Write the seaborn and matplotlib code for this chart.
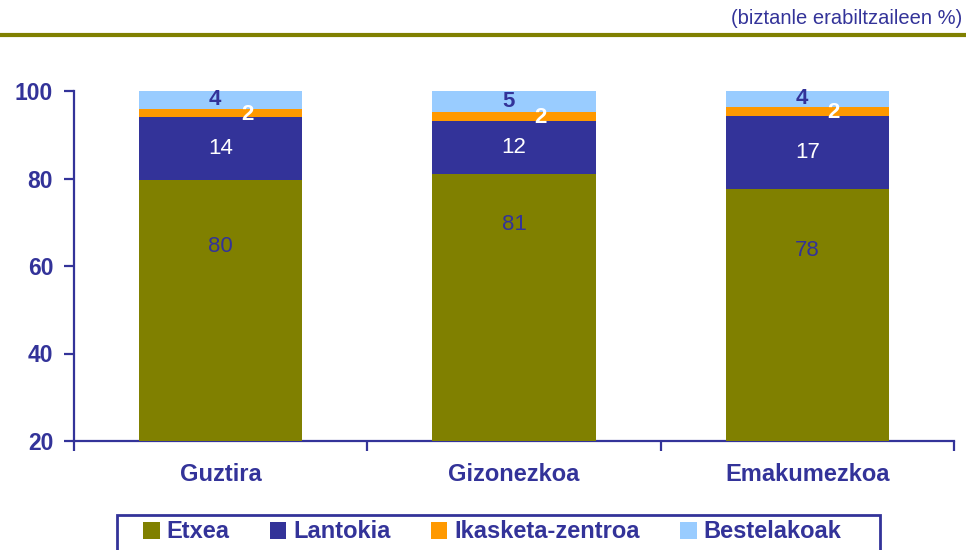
import matplotlib
matplotlib.use("Agg")
import matplotlib.pyplot as plt
import seaborn as sns
import pandas as pd
import numpy as np
from matplotlib.patches import Patch, Rectangle
from matplotlib.lines import Line2D

# datuak (biztanle erabiltzaileen %)
categories = ["Guztira", "Gizonezkoa", "Emakumezkoa"]
series = ["Etxea", "Lantokia", "Ikasketa-zentroa", "Bestelakoak"]
etxea = [79.6, 81.0, 77.6]
lantokia = [14.4, 12.2, 16.8]
ikasketa = [2.0, 2.0, 2.0]
bestelakoak = [4.2, 4.8, 3.8]
labels_etxea = ["80", "81", "78"]
labels_lantokia = ["14", "12", "17"]
labels_ikasketa = ["2", "2", "2"]
labels_bestelakoak = ["4", "5", "4"]
etxea_label_y = [64.5, 69.6, 63.6]

colors = ["#808000", "#333399", "#FF9900", "#99CCFF"]
txt = "#333399"

sns.set_style("white")
plt.rcParams["font.family"] = ["Liberation Sans", "DejaVu Sans"]

values = np.array([etxea, lantokia, ikasketa, bestelakoak])
cum = values.cumsum(axis=0)

fig = plt.figure(figsize=(9.66, 5.5), dpi=100)
ax = fig.add_axes([74 / 966, 1 - 441 / 550, 880 / 966, 350 / 550])

# goiko geruzatik behekora marraztu
for i in range(3, -1, -1):
    df = pd.DataFrame({"kat": categories, "val": cum[i]})
    sns.barplot(data=df, x="kat", y="val", color=colors[i], saturation=1,
                width=0.556, linewidth=0, ax=ax, zorder=2 + (3 - i))

ax.set_xlim(-0.5, 2.5)
ax.set_ylim(20, 100)
ax.set_yticks([20, 40, 60, 80, 100])
ax.set_xlabel("")
ax.set_ylabel("")
for s in ["top", "right"]:
    ax.spines[s].set_visible(False)
for s in ["left", "bottom"]:
    ax.spines[s].set_color(txt)
    ax.spines[s].set_linewidth(1.6)

ax.set_xticks(np.arange(len(categories)))
ax.set_xticklabels(categories)
ax.set_xticks([-0.5, 0.5, 1.5, 2.5], minor=True)
ax.tick_params(axis="x", which="major", length=0, pad=16, labelsize=17,
               labelcolor=txt)
ax.tick_params(axis="x", which="minor", bottom=True, length=7, width=1.6,
               color=txt, direction="out")
ax.tick_params(axis="y", left=True, length=7, width=1.6, color=txt,
               direction="out", pad=8, labelsize=16.5, labelcolor=txt)
for t in ax.get_xticklabels() + ax.get_yticklabels():
    t.set_fontweight("bold")

# balioen etiketak
for j in range(len(categories)):
    ax.text(j, etxea_label_y[j], labels_etxea[j], ha="center", va="center",
            fontsize=16, color=txt, zorder=10)
    ax.text(j, (cum[0][j] + cum[1][j]) / 2, labels_lantokia[j], ha="center",
            va="center", fontsize=16, color="white", zorder=10)
    ax.text(j + 0.09, (cum[1][j] + cum[2][j]) / 2 - 0.3, labels_ikasketa[j],
            ha="center", va="center", fontsize=16, color="white",
            fontweight="bold", zorder=11)
    ax.text(j - 0.02, (cum[2][j] + cum[3][j]) / 2, labels_bestelakoak[j],
            ha="center", va="center", fontsize=16, color=txt,
            fontweight="bold", zorder=10)

# goiburua
fig.text(962 / 966, 1 - 18 / 550, "(biztanle erabiltzaileen %)", ha="right",
         va="center", fontsize=14.5, color=txt)
fig.add_artist(Line2D([0, 1], [1 - 35 / 550, 1 - 35 / 550], color="#808000",
                      linewidth=3, transform=fig.transFigure))

# legenda
fig.add_artist(Rectangle((117 / 966, 1 - 552 / 550), 763 / 966, 37 / 550,
                         transform=fig.transFigure, fill=False,
                         edgecolor=txt, linewidth=2))
handles = [Patch(facecolor=c, edgecolor="none") for c in colors]
leg = fig.legend(handles, series, loc="center left",
                 bbox_to_anchor=(143 / 966, 1 - 532 / 550), borderaxespad=0,
                 ncol=4, frameon=False, handlelength=0.7,
                 handleheight=0.7, handletextpad=0.3, columnspacing=1.7,
                 borderpad=0, prop={"size": 17, "weight": "bold"})
for t in leg.get_texts():
    t.set_color(txt)

fig.savefig("out.png", dpi=100)
